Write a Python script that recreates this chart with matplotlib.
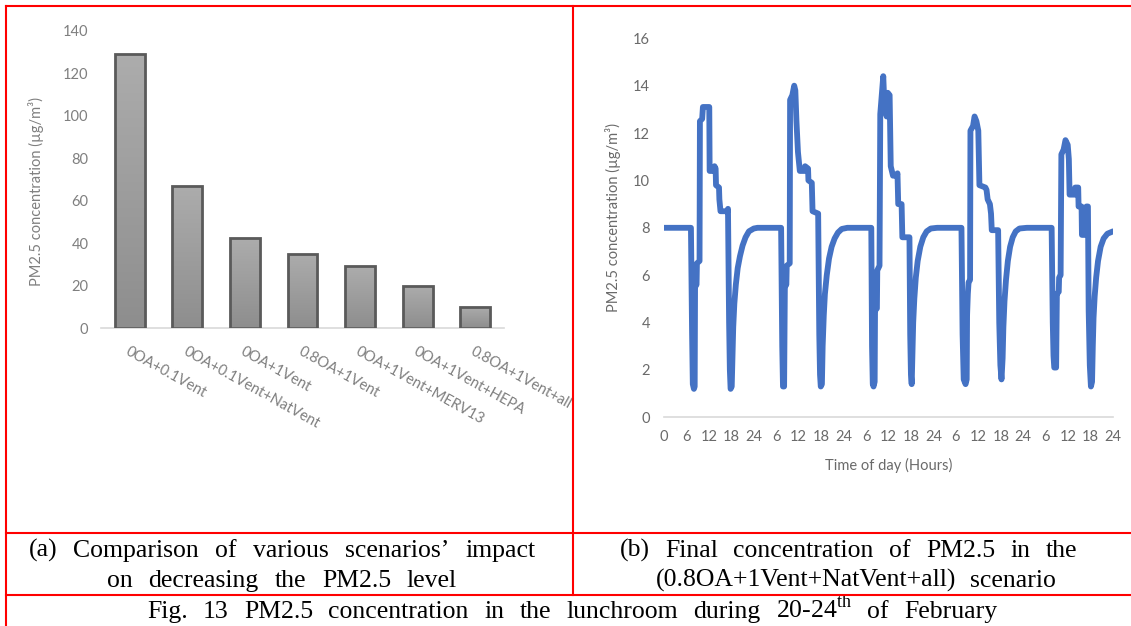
import numpy as np
import matplotlib
matplotlib.use("Agg")
import matplotlib.pyplot as plt
from matplotlib.colors import LinearSegmentedColormap
from matplotlib.lines import Line2D
from matplotlib.transforms import Bbox, TransformedBbox

plt.rcParams["mathtext.fontset"] = "custom"
plt.rcParams["mathtext.rm"] = "Liberation Serif"

W, H = 1131, 626

# (a) scenario comparison
scenarios = ["0OA+0.1Vent", "0OA+0.1Vent+NatVent", "0OA+1Vent", "0.8OA+1Vent",
             "0OA+1Vent+MERV13", "0OA+1Vent+HEPA", "0.8OA+1Vent+all"]
pm25_level = [129, 67, 42.5, 35, 29, 20, 10]

# (b) hourly PM2.5, one list per day (hour of that day)
day1_hours = [0.0, 7.2, 7.5, 7.7, 8.0, 8.2, 8.3, 8.7, 8.8, 9.5, 9.6, 10.2, 10.4,
              12.1, 12.2, 13.4, 13.5, 13.8, 13.9, 14.7, 14.8, 15.1, 17.0, 17.1,
              17.4, 17.6, 17.8, 18.1, 18.3, 18.5, 18.8, 19.2, 19.7, 20.3, 21.0,
              21.8, 22.7, 24.0]
day1_pm = [8.0, 8.0, 3.6, 1.4, 1.2, 1.3, 5.5, 5.6, 6.5, 6.6, 12.5, 12.6, 13.1,
           13.1, 10.4, 10.4, 10.6, 10.5, 9.8, 9.7, 9.2, 8.7, 8.7, 8.8,
           4.0, 2.0, 1.2, 1.3, 2.6, 3.8, 4.8, 5.6, 6.3, 6.8, 7.25,
           7.6, 7.85, 7.97]

day2_hours = [1.0, 7.3, 7.6, 7.8, 8.1, 8.3, 8.7, 8.8, 9.6, 9.7, 10.3, 10.8,
              11.1, 11.4, 11.8, 12.3, 13.6, 13.7, 14.5, 14.6, 15.5, 15.7, 17.2,
              17.5, 17.7, 17.9, 18.2, 18.4, 18.7, 19.0, 19.5, 20.1, 20.8, 21.6,
              22.5, 23.5]
day2_pm = [8.0, 8.0, 3.0, 1.3, 1.3, 5.5, 5.6, 6.4, 6.5, 13.4, 13.6, 14.0,
           13.8, 12.5, 11.2, 10.4, 10.4, 10.6, 10.5, 10.0, 9.9, 8.7, 8.6,
           3.5, 1.8, 1.3, 1.4, 3.0, 4.3, 5.2, 6.0, 6.7, 7.2, 7.55,
           7.8, 7.95]

day3_hours = [1.0, 7.4, 7.6, 7.8, 8.0, 8.3, 8.4, 8.9, 9.0, 9.6, 9.8, 10.3,
              10.6, 10.9, 11.5, 11.8, 12.3, 12.6, 13.2, 14.2, 14.4, 14.6, 15.5,
              15.7, 17.6, 17.8, 18.0, 18.2, 18.4, 18.6, 18.9, 19.3, 19.8, 20.5,
              21.3, 22.2, 23.3]
day3_pm = [8.0, 8.0, 3.0, 1.4, 1.3, 1.5, 4.5, 4.6, 6.2, 6.4, 12.8, 13.8,
           14.4, 13.2, 12.7, 13.7, 13.6, 10.6, 10.2, 10.2, 10.3, 9.0, 9.0,
           7.6, 7.6, 3.5, 1.8, 1.4, 2.8, 4.0, 5.0, 5.9, 6.6, 7.2,
           7.6, 7.85, 7.97]

day4_hours = [1.0, 7.5, 7.8, 8.1, 8.6, 8.9, 9.0, 9.2, 9.4, 9.8, 9.9, 10.6,
              11.0, 11.5, 12.0, 12.3, 13.9, 14.2, 14.5, 15.1, 15.4, 15.6, 17.3,
              17.6, 17.9, 18.2, 18.5, 18.7, 19.0, 19.4, 19.9, 20.5, 21.2, 22.0,
              23.0]
day4_pm = [8.0, 8.0, 3.5, 1.6, 1.4, 1.6, 4.3, 5.2, 5.7, 5.8, 12.1, 12.3,
           12.7, 12.5, 12.1, 9.8, 9.7, 9.6, 9.2, 9.0, 8.6, 7.9, 7.9,
           4.0, 2.2, 1.6, 2.5, 3.8, 4.9, 5.8, 6.6, 7.2, 7.6, 7.85,
           7.97]

day5_hours = [1.0, 7.6, 7.9, 8.1, 8.3, 8.8, 9.0, 9.5, 9.6, 10.0, 10.2, 10.8,
              11.3, 11.9, 12.2, 12.4, 13.8, 13.9, 14.7, 14.8, 15.6, 15.7, 16.8,
              16.9, 17.3, 17.5, 17.8, 18.1, 18.4, 18.6, 18.8, 19.1, 19.5, 20.0,
              20.7, 21.5, 22.5, 24.0]
day5_pm = [8.0, 8.0, 4.0, 2.6, 2.1, 2.1, 5.2, 5.3, 5.9, 6.0, 11.1, 11.3,
           11.7, 11.5, 10.9, 9.4, 9.4, 9.7, 9.7, 8.9, 8.9, 7.7, 7.7,
           8.9, 8.9, 4.5, 2.2, 1.3, 1.5, 3.0, 4.2, 5.1, 5.9, 6.6,
           7.2, 7.55, 7.75, 7.85]

hour_ticks = [0, 6, 12, 18, 24, 30, 36, 42, 48, 54, 60, 66, 72, 78, 84, 90,
              96, 102, 108, 114, 120]
hour_labels = ["0", "6", "12", "18", "24", "6", "12", "18", "24", "6", "12",
               "18", "24", "6", "12", "18", "24", "6", "12", "18", "24"]

CHART_FONT = "Lato"
SERIF = "Liberation Serif"
LINE_BLUE = "#4472C4"
RED = "#FF0000"


def px_rect(x0, y0, x1, y1):
    """Pixel box (top-left origin) -> figure fraction rect."""
    return [x0 / W, 1 - y1 / H, (x1 - x0) / W, (y1 - y0) / H]


fig = plt.figure(figsize=(W / 100, H / 100), dpi=100, facecolor="white")

# ---- (a) bar chart ----
ax_bar = fig.add_axes(px_rect(101, 31, 504, 328))
xs = np.arange(len(scenarios))
bars = ax_bar.bar(xs, pm25_level, width=0.52, facecolor="none",
                  edgecolor="#5a5a5a", linewidth=2, zorder=3)
grad_cmap = LinearSegmentedColormap.from_list("bar_grad", ["#8e8e8e", "#acacac"])
for bar in bars:
    x0 = bar.get_x()
    im = ax_bar.imshow(np.linspace(0, 1, 64).reshape(-1, 1), cmap=grad_cmap,
                       origin="lower", aspect="auto", zorder=2,
                       extent=[x0, x0 + bar.get_width(), 0, bar.get_height()])
    im.set_clip_path(bar)
ax_bar.set_xlim(-0.5, len(scenarios) - 0.5)
ax_bar.set_ylim(0, 140)
ax_bar.set_yticks(range(0, 141, 20))
ax_bar.set_xticks(xs)
ax_bar.set_xticklabels(scenarios, rotation=-29, ha="left", va="top",
                       rotation_mode="anchor")
for s in ("top", "right", "left"):
    ax_bar.spines[s].set_visible(False)
ax_bar.spines["bottom"].set_color("#d9d9d9")
ax_bar.spines["bottom"].set_linewidth(1.2)
ax_bar.tick_params(axis="both", length=0, colors="#7f7f7f", labelsize=10.5)
ax_bar.tick_params(axis="y", pad=9)
ax_bar.tick_params(axis="x", pad=12)
clip = TransformedBbox(Bbox.from_extents(0, 0, 572 / W, 1), fig.transFigure)
for lbl in ax_bar.get_xticklabels() + ax_bar.get_yticklabels():
    lbl.set_fontfamily(CHART_FONT)
for lbl in ax_bar.get_xticklabels():
    lbl.set_clip_box(clip)
    lbl.set_clip_on(True)
fig.text(36 / W, 1 - 191 / H, "PM2.5 concentration (µg/m³)", rotation=90,
         ha="center", va="center", color="#7f7f7f", fontsize=10.5,
         fontfamily=CHART_FONT)

# ---- (b) line chart ----
ax_line = fig.add_axes(px_rect(664, 38.3, 1113, 417.3))
days_h = [day1_hours, day2_hours, day3_hours, day4_hours, day5_hours]
days_v = [day1_pm, day2_pm, day3_pm, day4_pm, day5_pm]
t_all = np.concatenate([np.array(h) + 24 * i for i, h in enumerate(days_h)])
v_all = np.concatenate([np.array(v) for v in days_v])
ax_line.plot(t_all, v_all, color=LINE_BLUE, linewidth=4.2,
             solid_joinstyle="round", solid_capstyle="round", zorder=3)
ax_line.set_xlim(0, 120)
ax_line.set_ylim(0, 16)
ax_line.set_yticks(range(0, 17, 2))
ax_line.set_xticks(hour_ticks)
ax_line.set_xticklabels(hour_labels)
for s in ("top", "right", "left"):
    ax_line.spines[s].set_visible(False)
ax_line.spines["bottom"].set_color("#d9d9d9")
ax_line.spines["bottom"].set_linewidth(1.2)
ax_line.tick_params(axis="both", length=0, colors="#6a6a6a", labelsize=10.5)
ax_line.tick_params(axis="y", pad=10)
ax_line.tick_params(axis="x", pad=9)
for lbl in ax_line.get_xticklabels() + ax_line.get_yticklabels():
    lbl.set_fontfamily(CHART_FONT)
fig.text(613 / W, 1 - 218 / H, "PM2.5 concentration (µg/m³)", rotation=90,
         ha="center", va="center", color="#6a6a6a", fontsize=10.5,
         fontfamily=CHART_FONT)
fig.text(889 / W, 1 - 465 / H, "Time of day (Hours)", ha="center",
         va="center", color="#6a6a6a", fontsize=10.5, fontfamily=CHART_FONT)

# ---- table frame ----
frame = [((5.5, 5.5), (1131, 5.5)), ((5.5, 5.5), (5.5, 626)),
         ((573, 5.5), (573, 594.5)), ((5.5, 532.5), (1131, 532.5)),
         ((5.5, 594.5), (1131, 594.5))]
for (xa, ya), (xb, yb) in frame:
    fig.add_artist(Line2D([xa / W, xb / W], [1 - ya / H, 1 - yb / H],
                          transform=fig.transFigure, color=RED, lw=1.5,
                          zorder=10))

# ---- captions (justified lines; last lines centred with plain gaps) ----
renderer = fig.canvas.get_renderer()


def caption_line(text, x0, x1, baseline, size=18.5, gap=None):
    words = text.split()
    objs = [fig.text(0, 0, w, fontsize=size, fontfamily=SERIF, va="baseline",
                     ha="left", color="black") for w in words]
    widths = [o.get_window_extent(renderer=renderer).width for o in objs]
    if gap is None:
        gap = (x1 - x0 - sum(widths)) / max(len(words) - 1, 1)
        x = x0
    else:
        total = sum(widths) + gap * (len(words) - 1)
        x = (x0 + x1) / 2 - total / 2
    for o, w in zip(objs, widths):
        o.set_position((x / W, 1 - baseline / H))
        x += w + gap


caption_line("(a) Comparison of various scenarios\u2019 impact", 28.5, 536, 557)
caption_line("on decreasing the PM2.5 level", 107, 457, 587)
caption_line("(b) Final concentration of PM2.5 in the", 620, 1077, 557)
caption_line("(0.8OA+1Vent+NatVent+all) scenario", 647, 1065, 587, gap=14)
caption_line(r"Fig. 13 PM2.5 concentration in the lunchroom during "
             r"20-24$^{\mathrm{th}}$ of February", 147, 997, 618)

fig.savefig("out.png", dpi=100, facecolor="white")
